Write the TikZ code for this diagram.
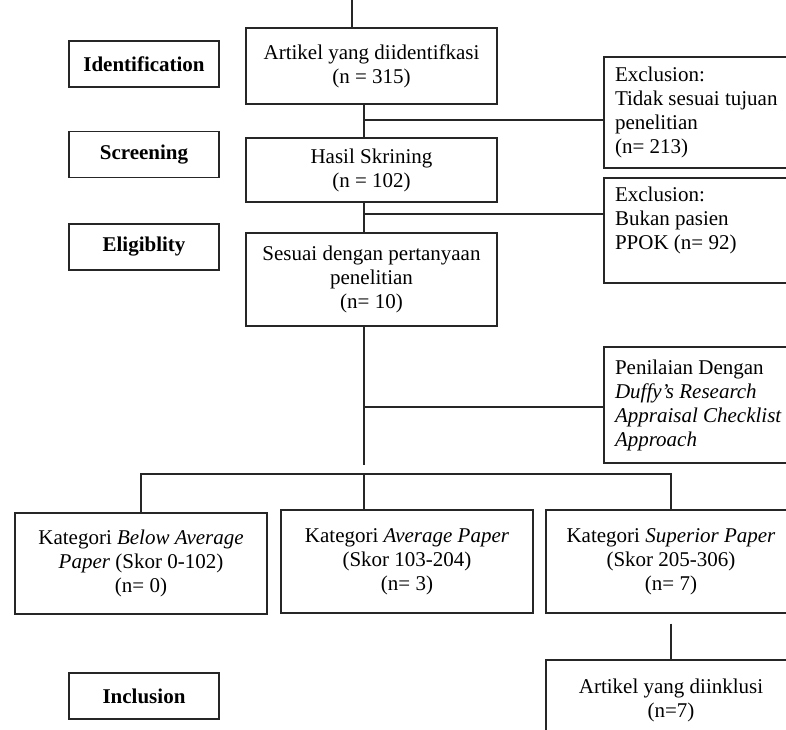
\documentclass[tikz,border=0pt]{standalone}
\usepackage{fontspec}
\setmainfont{Liberation Serif}
\newcommand{\boxfont}{\fontsize{21}{24}\selectfont}
\tikzset{
  stage/.style={draw=black!85, line width=1.4pt, minimum width=150pt, minimum height=46pt, font=\boxfont\bfseries},
  flowbox/.style={draw=black!85, line width=1.4pt, minimum width=251pt, align=center, font=\boxfont},
  exclbox/.style={draw=black!85, line width=1.4pt, text width=170pt, inner xsep=11pt, align=flush left, font=\boxfont},
  link/.style={draw=black!85, line width=1.4pt},
}
\begin{document}
\begin{tikzpicture}[x=1pt,y=-1pt]
\useasboundingbox (0,0) rectangle (786,729);
\clip (0,0) rectangle (786,729);
\fill[white] (0,0) rectangle (786,729);
% stages on the left
\node[stage] (idf) at (144,64) {Identification};
\node[stage] (scr) at (144,154.5) {Screening};
\node[stage] (elig) at (144,247) {Eligiblity};
\node[stage] (incl) at (144,696) {Inclusion};
% main column
\node[flowbox, minimum height=76pt] (art) at (371.5,66) {Artikel yang diidentifkasi\\(n = 315)};
\node[flowbox, minimum height=64pt] (hasil) at (371.5,170) {Hasil Skrining\\(n = 102)};
\node[flowbox, minimum height=93pt] (ses) at (371.5,279.5) {Sesuai dengan pertanyaan\\penelitian\\(n= 10)};
% boxes on the right
\node[exclbox, minimum height=111pt] (exc1) at (700,112.5) {Exclusion:\\Tidak sesuai tujuan\\penelitian\\(n= 213)};
\node[exclbox, minimum height=105pt] (exc2) at (700,230.5) {Exclusion:\\Bukan pasien\\PPOK (n= 92)\\\mbox{}};
\node[exclbox, minimum height=116pt] (pen) at (700,405) {Penilaian Dengan\\\textit{Duffy’s Research}\\\textit{Appraisal Checklist}\\\textit{Approach}};
% categories
\node[flowbox, minimum width=252pt, minimum height=101pt] (cat1) at (141,563.5) {Kategori \textit{Below Average}\\\textit{Paper} (Skor 0-102)\\(n= 0)};
\node[flowbox, minimum width=252pt, minimum height=103pt] (cat2) at (407,561.5) {Kategori \textit{Average Paper}\\(Skor 103-204)\\(n= 3)};
\node[flowbox, minimum width=250pt, minimum height=103pt] (cat3) at (671,561.5) {Kategori \textit{Superior Paper}\\(Skor 205-306)\\(n= 7)};
\node[flowbox, minimum width=250pt, minimum height=80pt] (inc) at (671,700) {Artikel yang diinklusi\\(n=7)};
% connectors
\coordinate (sp) at (364,0);
\coordinate (top) at (352,-5);
\coordinate (b1) at (364,120);
\coordinate (b2) at (364,214);
\coordinate (b3) at (364,407);
\coordinate (fork) at (364,474);
\draw[link] (top) -- (top |- art.north);
\draw[link] (art.south -| sp) -- (hasil.north -| sp);
\draw[link] (hasil.south -| sp) -- (ses.north -| sp);
\draw[link] (ses.south -| sp) -- ++(0,138);
\draw[link] (b1) -- (b1 -| exc1.west);
\draw[link] (b2) -- (b2 -| exc2.west);
\draw[link] (b3) -- (b3 -| pen.west);
\draw[link] (cat1.north) |- (fork) -| (cat3.north);
\draw[link] (fork) -- (fork |- cat2.north);
\draw[link] (cat3.south) ++(0,10) -- (inc.north);
\end{tikzpicture}
\end{document}
